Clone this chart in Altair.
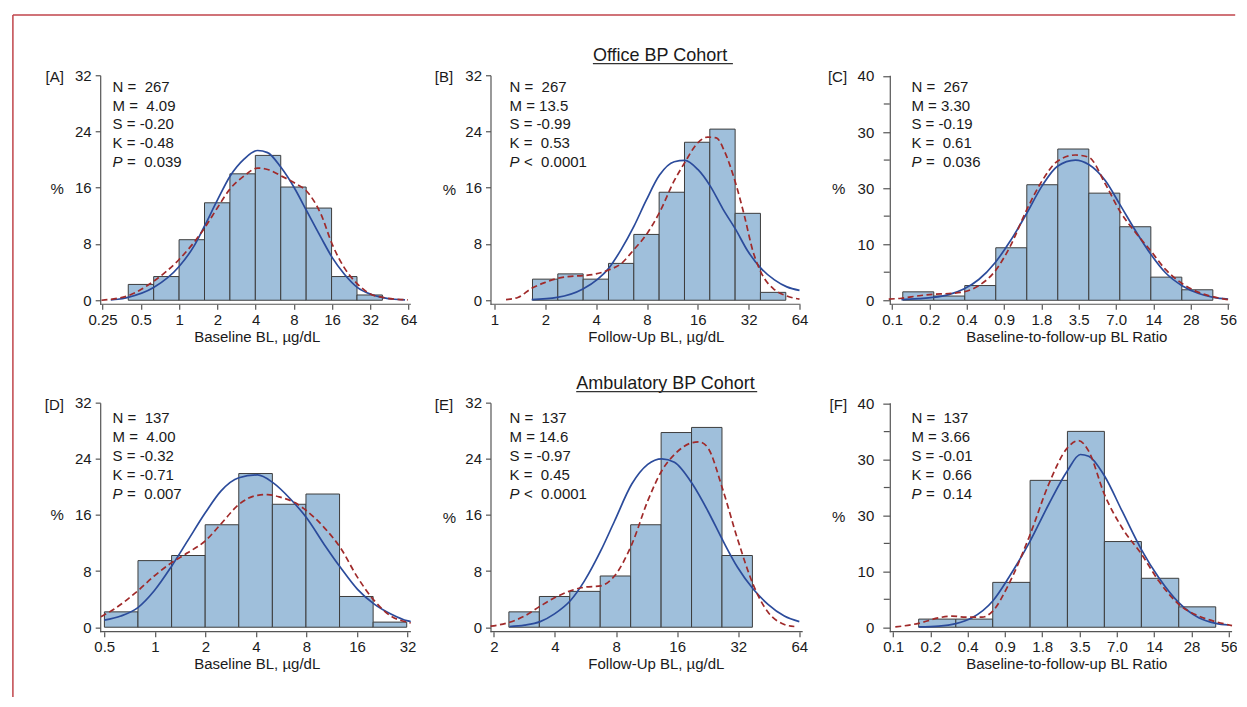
import altair as alt
import pandas as pd

FONT = "Liberation Sans"
BAR = "#9fbfdb"
EDGE = "#3c3c3c"
BLUE = "#2b4b9b"
RED = "#a02a2a"
AX = "#555555"
TX = "#1a1a1a"
FRAME = "#c0454b"

# ---------------- data ----------------
# Panel A: Office BP, baseline BL
A_EDGES = [0.398, 0.631, 1.0, 1.585, 2.512, 3.981, 6.31, 10.0, 15.85, 25.12, 39.81]
A_PCT = [2.25, 3.37, 8.61, 13.86, 17.98, 20.60, 16.10, 13.11, 3.37, 0.75]
A_BLUE_X = [0.29, 0.33, 0.39, 0.63, 1.0, 1.32, 1.59, 2.01, 2.51, 3.26, 4.15, 4.97, 6.33, 8.06, 10.1, 13.1, 16.0, 20.0, 25.4, 32.3, 40.2, 49.3, 60.0]
A_BLUE_Y = [0.05, 0.14, 0.38, 1.8, 4.8, 7.8, 10.6, 14.3, 17.6, 20.1, 21.3, 21.0, 18.9, 16.0, 12.7, 8.9, 6.1, 3.7, 1.8, 0.85, 0.38, 0.14, 0.05]
A_RED_X = [0.245, 0.328, 0.393, 0.63, 1.0, 1.59, 2.01, 2.51, 3.26, 4.15, 4.97, 6.33, 8.06, 10.1, 13.1, 16.0, 20.0, 25.4, 32.3, 40.2, 63.0]
A_RED_Y = [0.0, 0.28, 0.62, 2.7, 5.8, 10.3, 13.2, 15.8, 17.7, 18.8, 18.6, 17.7, 16.7, 15.5, 12.2, 8.0, 4.6, 2.3, 0.85, 0.4, 0.05]

# Panel B: Office BP, follow-up BL
B_EDGES = [1.679, 2.371, 3.350, 4.732, 6.683, 9.441, 13.34, 18.84, 26.61, 37.58, 53.09]
B_PCT = [3.00, 3.75, 3.00, 5.24, 9.36, 15.36, 22.47, 24.34, 12.36, 1.12]
B_BLUE_X = [1.66, 2.35, 3.34, 4.09, 4.73, 5.62, 6.69, 7.91, 9.49, 11.6, 13.4, 16.0, 19.0, 22.5, 26.9, 31.6, 38.0, 45.5, 53.9, 64.0]
B_BLUE_Y = [0.1, 0.4, 1.6, 3.0, 4.5, 7.2, 10.5, 14.2, 17.8, 19.7, 19.9, 18.6, 16.2, 13.0, 10.0, 7.0, 4.5, 2.9, 1.9, 1.4]
B_RED_X = [1.17, 1.375, 1.66, 1.98, 2.35, 2.84, 3.34, 3.91, 4.73, 5.62, 6.69, 7.91, 9.49, 11.6, 13.4, 16.0, 18.3, 20.6, 23.0, 26.9, 30.2, 33.9, 38.0, 45.5, 53.9, 64.0]
B_RED_Y = [0.1, 0.4, 1.7, 2.5, 3.1, 3.4, 3.5, 3.7, 4.3, 5.2, 7.2, 9.3, 12.5, 17.0, 19.6, 22.4, 23.2, 23.1, 21.2, 16.5, 12.0, 7.0, 3.9, 1.5, 0.6, 0.15]

# Panel C: Office BP, ratio
C_EDGES = [0.1334, 0.2371, 0.4217, 0.7499, 1.334, 2.371, 4.217, 7.499, 13.34, 23.71, 42.17]
C_PCT = [1.50, 0.75, 2.62, 9.36, 20.60, 26.97, 19.10, 13.11, 4.12, 1.87]
C_BLUE_X = [0.130, 0.180, 0.233, 0.313, 0.414, 0.547, 0.740, 0.984, 1.316, 1.771, 2.356, 3.291, 4.214, 5.741, 7.497, 10.03, 13.33, 17.51, 23.82, 32.48, 42.65, 56.0]
C_BLUE_Y = [0.1, 0.3, 0.5, 1.0, 2.0, 3.7, 6.7, 10.6, 15.3, 20.4, 23.9, 25.0, 24.2, 21.3, 17.1, 12.4, 8.2, 4.9, 2.6, 1.2, 0.5, 0.2]
C_RED_X = [0.1028, 0.130, 0.180, 0.233, 0.313, 0.414, 0.547, 0.740, 0.984, 1.316, 1.771, 2.356, 3.291, 4.214, 5.741, 7.497, 10.03, 13.33, 17.51, 23.82, 32.48, 42.65, 56.0]
C_RED_Y = [0.2, 0.36, 0.8, 1.07, 1.2, 1.5, 2.6, 5.2, 9.7, 15.9, 21.3, 24.8, 25.9, 25.5, 20.7, 15.9, 12.1, 8.8, 5.5, 3.0, 1.4, 0.6, 0.1]

# Panel D: Ambulatory BP, baseline BL
D_EDGES = [0.501, 0.794, 1.259, 1.995, 3.162, 5.012, 7.943, 12.59, 19.95, 31.62]
D_PCT = [2.19, 9.49, 10.22, 14.60, 21.90, 17.52, 18.98, 4.38, 0.73]
D_BLUE_X = [0.5, 0.628, 0.793, 0.992, 1.259, 1.567, 1.998, 2.474, 3.167, 4.090, 5.049, 6.461, 8.007, 10.20, 12.76, 16.11, 20.25, 25.44, 32.11, 33.4]
D_BLUE_Y = [1.0, 1.6, 2.8, 5.2, 8.7, 12.3, 16.3, 19.4, 21.3, 21.7, 20.6, 18.2, 15.6, 11.8, 8.5, 5.4, 3.3, 1.9, 0.9, 0.8]
D_RED_X = [0.478, 0.574, 0.793, 0.992, 1.259, 1.567, 1.998, 2.474, 3.167, 4.090, 4.692, 5.633, 6.762, 8.007, 10.20, 12.76, 16.11, 20.25, 25.44, 32.11, 33.4]
D_RED_Y = [1.5, 2.6, 5.2, 7.3, 9.2, 10.6, 12.3, 14.7, 17.5, 18.8, 18.9, 18.5, 17.8, 16.6, 14.2, 11.3, 7.1, 3.8, 1.6, 0.7, 0.6]

# Panel E: Ambulatory BP, follow-up BL
E_EDGES = [2.371, 3.350, 4.732, 6.683, 9.441, 13.34, 18.84, 26.61, 37.58]
E_PCT = [2.19, 4.38, 5.11, 7.30, 14.60, 27.74, 28.47, 10.22]
E_BLUE_X = [2.389, 2.832, 3.382, 3.979, 4.770, 5.590, 6.727, 7.856, 9.562, 11.46, 13.44, 15.51, 19.03, 22.64, 26.93, 31.80, 38.00, 44.71, 53.99, 64.0]
E_BLUE_Y = [0.1, 0.3, 0.8, 1.9, 3.8, 6.6, 10.9, 15.1, 20.4, 23.2, 24.0, 23.5, 20.4, 16.6, 12.3, 8.5, 5.4, 3.3, 1.6, 0.8]
E_RED_X = [1.926, 2.389, 2.832, 3.382, 3.979, 4.770, 5.590, 6.727, 7.856, 9.562, 11.46, 13.44, 15.51, 19.03, 20.60, 22.64, 26.93, 31.80, 38.00, 44.71, 53.99, 60.47]
E_RED_Y = [0.15, 0.7, 1.6, 3.0, 4.2, 5.2, 5.7, 5.9, 7.3, 11.8, 18.0, 22.3, 24.6, 26.3, 26.4, 25.6, 19.5, 12.5, 6.0, 2.2, 0.4, 0.1]

# Panel F: Ambulatory BP, ratio
F_EDGES = [0.176, 0.351, 0.697, 1.396, 2.793, 5.55, 11.04, 22.11, 43.94]
F_PCT = [1.46, 1.46, 8.03, 26.28, 35.04, 15.33, 8.76, 3.65]
F_BLUE_X = [0.176, 0.256, 0.351, 0.475, 0.697, 0.939, 1.396, 1.974, 2.793, 3.552, 4.147, 5.550, 7.707, 11.04, 15.22, 22.11, 32.05, 43.94, 56.0]
F_BLUE_Y = [0.06, 0.2, 0.65, 1.7, 4.7, 8.9, 15.4, 22.0, 28.0, 30.9, 30.6, 27.1, 20.8, 13.9, 8.9, 4.4, 1.7, 0.7, 0.4]
F_RED_X = [0.114, 0.176, 0.256, 0.328, 0.420, 0.572, 0.697, 0.939, 1.396, 1.974, 2.793, 3.445, 4.147, 5.550, 7.707, 11.04, 15.22, 22.11, 32.05, 43.94, 59.5]
F_RED_Y = [0.05, 0.7, 1.7, 2.0, 1.8, 1.8, 2.9, 7.7, 16.6, 25.6, 32.1, 33.4, 31.5, 23.8, 17.8, 13.1, 8.3, 4.1, 2.0, 1.0, 0.3]

# tick values / labels
TICKS_A = [0.25, 0.5, 1, 2, 4, 8, 16, 32, 64]
TICKS_B = [1, 2, 4, 8, 16, 32, 64]
TICKS_D = [0.5, 1, 2, 4, 8, 16, 32]
TICKS_E = [2, 4, 8, 16, 32, 64]
TICKS_RATIO = [0.109375, 0.21875, 0.4375, 0.875, 1.75, 3.5, 7, 14, 28, 56]
Y_TICKS_32 = [0, 8, 16, 24, 32]
Y_TICKS_40 = [0, 10, 20, 30, 40]
Y_MINOR_40 = [5, 15, 25, 35]

STATS = {
    "A": ["N =  267", "M =  4.09", "S = -0.20", "K = -0.48", "=  0.039"],
    "B": ["N =  267", "M = 13.5", "S = -0.99", "K =  0.53", "<  0.0001"],
    "C": ["N =  267", "M = 3.30", "S = -0.19", "K =  0.61", "=  0.036"],
    "D": ["N =  137", "M =  4.00", "S = -0.32", "K = -0.71", "=  0.007"],
    "E": ["N =  137", "M = 14.6", "S = -0.97", "K =  0.45", "<  0.0001"],
    "F": ["N =  137", "M = 3.66", "S = -0.01", "K =  0.66", "=  0.14"],
}

ONE = pd.DataFrame({"k": [0]})


def nb(s):
    return s.replace(" ", "\u00a0")


def txt(text, x, y, size=15, align="left", style="normal", baseline="middle", color=TX):
    return alt.Chart(ONE).mark_text(
        text=text, font=FONT, fontSize=size, align=align, baseline=baseline,
        fontStyle=style, color=color
    ).encode(x=alt.value(x), y=alt.value(y))


def panel(letter, edges, pct, bx, by, rx, ry, xdom, xline_end, xticks, xlabexpr,
          xtitle, title_x, ydom, yticks, ratio, w, h, letter_dx, pct_dx, pct_dy,
          stats_dx, stats_dy0, extra=None):
    bars = pd.DataFrame({"x": edges[:-1], "x2": edges[1:], "y": pct})
    blue = pd.DataFrame({"x": bx, "y": by})
    red = pd.DataFrame({"x": rx, "y": ry})
    xscale = alt.Scale(type="log", base=2, domain=xdom, nice=False)
    yscale = alt.Scale(domain=ydom, nice=False, zero=False)
    xaxis = alt.Axis(
        values=xticks, labelExpr=xlabexpr, domain=False, grid=False, ticks=True,
        tickSize=5, tickColor=AX, tickWidth=1.2, labelPadding=3, labelFontSize=15,
        labelFont=FONT, labelColor=TX, labelFlush=False, labelOverlap=False,
        title=xtitle, titleX=title_x, titleY=32, titleBaseline="middle",
        titleAlign="center", titleFont=FONT, titleFontSize=15,
        titleFontWeight="normal", titleColor=TX,
    )
    ykw = dict(
        values=yticks, grid=False, domain=True, domainColor=AX, domainWidth=1.2,
        tickSize=7 if ratio else 5, tickColor=AX, tickWidth=1.2,
        labelPadding=9 if ratio else 4, labelFontSize=15, labelFont=FONT,
        labelColor=TX, labelFlush=False, labelOverlap=False, title="",
    )
    if ratio:
        ykw["labelExpr"] = "datum.value == 20 ? '30' : datum.label"
    yaxis = alt.Axis(**ykw)

    X = alt.X("x:Q", scale=xscale, axis=xaxis)
    Y = alt.Y("y:Q", scale=yscale, axis=yaxis)

    layers = [
        alt.Chart(bars).mark_rect(fill=BAR, stroke=EDGE, strokeWidth=1).encode(
            x=X, x2="x2:Q", y=Y, y2=alt.datum(0),
        ),
        alt.Chart(blue).mark_line(color=BLUE, strokeWidth=1.7, interpolate="monotone").encode(
            x=X, y=Y,
        ),
        alt.Chart(red).mark_line(color=RED, strokeWidth=1.7, strokeDash=[6, 3.5],
                                 interpolate="monotone").encode(
            x=X, y=Y,
        ),
        # x axis line
        alt.Chart(pd.DataFrame({"x": [xdom[0]], "x2": [xline_end], "y": [ydom[0]]}))
        .mark_rule(color=AX, strokeWidth=1.2).encode(x=X, x2="x2:Q", y=Y),
    ]
    if ratio:
        layers.append(
            alt.Chart(pd.DataFrame({"y": Y_MINOR_40})).mark_rule(color=AX, strokeWidth=1.2).encode(
                y=Y, x=alt.value(-6), x2=alt.value(0),
            )
        )
    layers.append(txt("[" + letter + "]", letter_dx, 2, align="right"))
    layers.append(txt("%", pct_dx, pct_dy, align="right"))
    lines = STATS[letter]
    dy = 18.9
    for i, ln in enumerate(lines[:4]):
        layers.append(txt(nb(ln), stats_dx, stats_dy0 + i * dy))
    layers.append(txt("P", stats_dx, stats_dy0 + 4 * dy, style="italic"))
    layers.append(txt(nb(lines[4]), stats_dx + 14.5, stats_dy0 + 4 * dy))
    if extra:
        layers.extend(extra)
    return alt.layer(*layers).properties(width=w, height=h)


LABEL_G = "format(datum.value, '~g')"
LABEL_R = "datum.value >= 10 ? format(datum.value, 'd') : format(datum.value, '.1f')"
T_BASE = "Baseline BL, µg/dL"
T_FOLL = "Follow-Up BL, µg/dL"
T_RAT = "Baseline-to-follow-up BL Ratio"

W1, W2, W3, H = 310.7, 319.1, 342.3, 229

frame = [
    alt.Chart(ONE).mark_rule(color=FRAME, strokeWidth=1.5).encode(
        x=alt.value(-87.3), x2=alt.value(1135), y=alt.value(-60.3)),
    alt.Chart(ONE).mark_rule(color=FRAME, strokeWidth=1.5).encode(
        x=alt.value(-87.3), y=alt.value(-60.3), y2=alt.value(621.7)),
]
office_title = [
    txt("Office BP Cohort", 102.4, -19.3, size=18),
    alt.Chart(ONE).mark_rule(color="#333333", strokeWidth=1.3).encode(
        x=alt.value(102.4), x2=alt.value(242.4), y=alt.value(-11.6)),
]
amb_title = [
    txt("Ambulatory BP Cohort", 85.7, -19.0, size=18),
    alt.Chart(ONE).mark_rule(color="#333333", strokeWidth=1.3).encode(
        x=alt.value(85.7), x2=alt.value(266.7), y=alt.value(-11.0)),
]

pA = panel("A", A_EDGES, A_PCT, A_BLUE_X, A_BLUE_Y, A_RED_X, A_RED_Y,
           [0.2394, 66.72], 66.72, TICKS_A, LABEL_G, T_BASE, 156.5,
           [-0.57, 32], Y_TICKS_32, False, W1, H, -36.3, -36.3, 113.4, 12.4, 11.4,
           extra=frame)
pB = panel("B", B_EDGES, B_PCT, B_BLUE_X, B_BLUE_Y, B_RED_X, B_RED_Y,
           [0.9469, 73.45], 64.88, TICKS_B, LABEL_G, T_FOLL, 165.4,
           [-0.57, 32], Y_TICKS_32, False, W2, H, -37.3, -34.3, 114.7, 19.0, 11.4,
           extra=office_title)
pC = panel("C", C_EDGES, C_PCT, C_BLUE_X, C_BLUE_Y, C_RED_X, C_RED_Y,
           [0.10483, 60.28], 57.57, TICKS_RATIO, LABEL_R, T_RAT, 176.5,
           [-0.713, 40.125], Y_TICKS_40, True, W3, H, -42.7, -44.4, 114.0, 21.6, 11.4)
pD = panel("D", D_EDGES, D_PCT, D_BLUE_X, D_BLUE_Y, D_RED_X, D_RED_Y,
           [0.4730, 33.48], 33.48, TICKS_D, LABEL_G, T_BASE, 156.5,
           [-0.63, 32], Y_TICKS_32, False, W1, H, -36.3, -36.3, 112.3, 12.4, 15.6)
pE = panel("E", E_EDGES, E_PCT, E_BLUE_X, E_BLUE_Y, E_RED_X, E_RED_Y,
           [1.9245, 71.91], 66.5, TICKS_E, LABEL_G, T_FOLL, 165.4,
           [-0.63, 32], Y_TICKS_32, False, W2, H, -37.3, -34.3, 115.0, 19.0, 15.6,
           extra=amb_title)
pF = panel("F", F_EDGES, F_PCT, F_BLUE_X, F_BLUE_Y, F_RED_X, F_RED_Y,
           [0.10289, 59.56], 59.56, TICKS_RATIO, LABEL_R, T_RAT, 176.5,
           [-0.787, 40.18], Y_TICKS_40, True, W3, H, -42.7, -44.4, 114.0, 21.6, 15.6)

chart = alt.concat(
    pA, pB, pC, pD, pE, pF, columns=3,
    spacing={"row": 98.4, "column": 79.3}, bounds="flush",
).properties(
    padding={"left": 3.2, "top": 5.25, "right": 0, "bottom": 0},
    background="white",
).configure_view(strokeWidth=0)

chart.save("out.html", embed_options={"renderer": "svg", "actions": False})
